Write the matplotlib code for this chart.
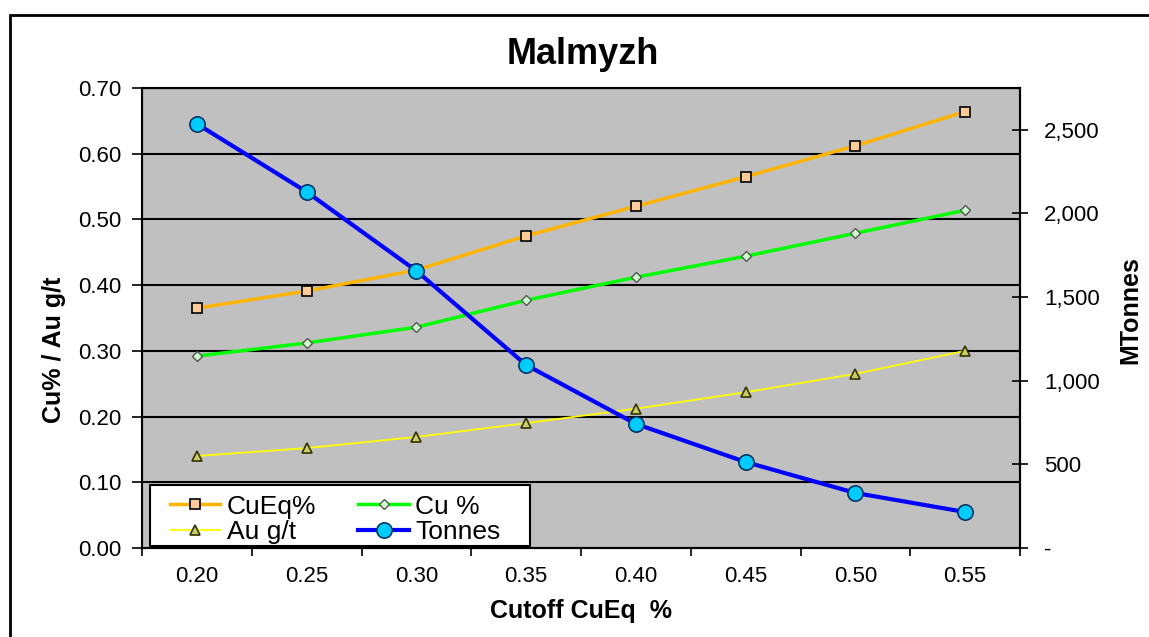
import numpy as np
import matplotlib
matplotlib.use("Agg")
import matplotlib.pyplot as plt
from matplotlib.ticker import FuncFormatter, MultipleLocator
from matplotlib.patches import Rectangle

plt.rcParams['font.family'] = ['Liberation Sans', 'DejaVu Sans']

# data
cutoffs = ['0.20', '0.25', '0.30', '0.35', '0.40', '0.45', '0.50', '0.55']
cueq = [0.365, 0.391, 0.423, 0.475, 0.520, 0.565, 0.612, 0.664]
cu = [0.292, 0.312, 0.336, 0.377, 0.412, 0.444, 0.479, 0.514]
au = [0.140, 0.152, 0.169, 0.190, 0.212, 0.237, 0.265, 0.300]
tonnes = [2536, 2129, 1657, 1094, 742, 514, 329, 215]

x = np.arange(len(cutoffs))

W, H = 1149, 637
fig = plt.figure(figsize=(W / 100, H / 100), dpi=100)
# outer chart border
fig.patches.append(Rectangle((10 / W, -0.05), 1.1, (H - 15) / H + 0.05,
                             transform=fig.transFigure, fill=False,
                             edgecolor='black', linewidth=2))

ax = fig.add_axes([142 / W, 89 / H, 878 / W, 460 / H])
ax.set_facecolor('#C0C0C0')

l1, = ax.plot(x, cueq, color='#FFB400', lw=2.5, marker='s', ms=7,
              mfc='#FFCC99', mec='black', mew=1.2, label='CuEq%')
l2, = ax.plot(x, cu, color='#00FF00', lw=2.5, marker='D', ms=5,
              mfc='#CCFFCC', mec='#555555', mew=1, label='Cu %')
l3, = ax.plot(x, au, color='#FFFF00', lw=1.3, marker='^', ms=7,
              mfc='#CCCC66', mec='#333300', mew=1.2, label='Au g/t')

ax.set_xlim(-0.5, len(cutoffs) - 0.5)
ax.set_ylim(0, 0.70)
ax.yaxis.set_major_locator(MultipleLocator(0.10))
ax.yaxis.set_major_formatter(FuncFormatter(lambda v, p: f'{v:.2f}'))
ax.grid(axis='y', color='black', lw=1.5)
ax.set_axisbelow(True)

ax.set_xticks(x)
ax.set_xticklabels(cutoffs)
ax.set_xticks(np.arange(-0.5, len(cutoffs)), minor=True)
ax.tick_params(axis='x', which='major', length=0, labelsize=16, pad=13)
ax.tick_params(axis='x', which='minor', length=6, width=1.2)
ax.tick_params(axis='y', length=7, width=1.2, labelsize=16, pad=8)
for s in ax.spines.values():
    s.set_linewidth(1.5)

ax.set_ylabel('Cu% / Au g/t', fontsize=18, fontweight='bold')
ax.yaxis.set_label_coords(-0.086, 0.43)
ax.set_xlabel('Cutoff CuEq  %', fontsize=18, fontweight='bold')
ax.xaxis.set_label_coords(0.5, -0.11)

ax2 = ax.twinx()
l4, = ax2.plot(x, tonnes, color='#0000FF', lw=3, marker='o', ms=11,
               mfc='#00CCFF', mec='#003366', mew=1.2, label='Tonnes')
ax2.set_ylim(0, 2750)
ax2.set_yticks([0, 500, 1000, 1500, 2000, 2500])
ax2.yaxis.set_major_formatter(FuncFormatter(lambda v, p: '-' if v == 0 else f'{v:,.0f}'))
ax2.tick_params(axis='y', direction='inout', length=11, width=1.2, labelsize=16, pad=12)
ax2.spines['right'].set_linewidth(1.5)
ax2.set_ylabel('MTonnes', fontsize=18, fontweight='bold')
ax2.yaxis.set_label_coords(1.112, 0.517)

# legend box drawn by hand so it can have wider side padding
box = Rectangle((150 / W, (H - 546) / H), 380 / W, 61 / H, transform=fig.transFigure,
                facecolor='white', edgecolor='black', lw=1.5, zorder=4)
ax2.add_artist(box)
box.set_clip_on(False)
leg = ax2.legend(handles=[l1, l3, l2, l4], ncol=2, loc='lower left',
                 bbox_to_anchor=(170 / W, (H - 544) / H),
                 bbox_transform=fig.transFigure, borderaxespad=0, borderpad=0,
                 fontsize=19, frameon=False, handlelength=1.9,
                 columnspacing=1.6, labelspacing=0.05, handletextpad=0.25)
leg.set_zorder(5)

fig.text(583 / W, 1 - 55 / H, 'Malmyzh', ha='center', va='center',
         fontsize=26, fontweight='bold')

fig.savefig('out.png', dpi=100)
